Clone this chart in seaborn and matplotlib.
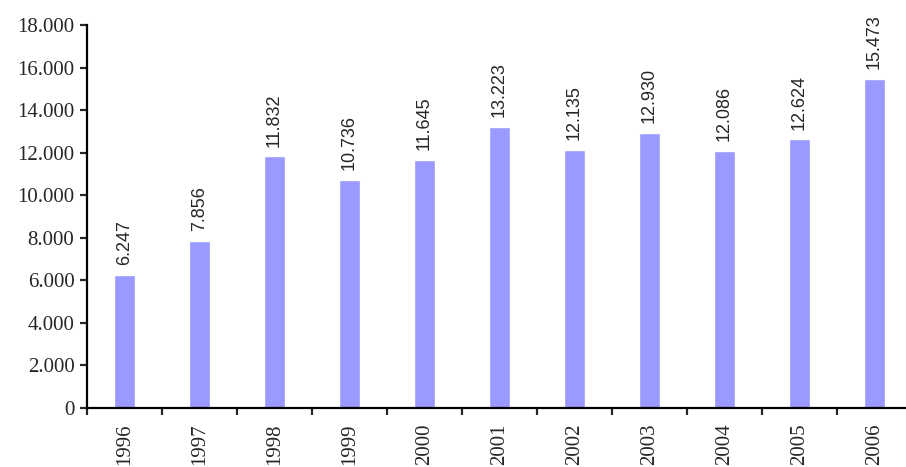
import pandas as pd
import seaborn as sns
import matplotlib.pyplot as plt
from matplotlib.ticker import FuncFormatter, FixedLocator

# data
years = ['1996', '1997', '1998', '1999', '2000', '2001', '2002', '2003', '2004', '2005', '2006']
values = [6247, 7856, 11832, 10736, 11645, 13223, 12135, 12930, 12086, 12624, 15473]
df = pd.DataFrame({'Year': years, 'Value': values})

sns.set_style('white')
plt.rcParams['font.family'] = ['Liberation Serif', 'DejaVu Serif']

fig = plt.figure(figsize=(9.06, 4.67), dpi=100)
ax = fig.add_axes([87 / 906, 59 / 467, 825 / 906, 383 / 467])

sns.barplot(data=df, x='Year', y='Value', color='#9999FF', width=0.29,
            saturation=1, ax=ax)

def dots(v, pos):
    return f"{v:,.0f}".replace(",", ".")

# value labels above bars
for i, v in enumerate(values):
    ax.annotate(dots(v, None), (i, v), xytext=(0, 7), textcoords='offset points',
                rotation=90, ha='center', va='bottom', fontsize=13,
                family='Liberation Sans')

ax.set_ylim(0, 18000)
ax.set_xlim(-0.5, 10.5)
ax.set_yticks(range(0, 18001, 2000))
ax.yaxis.set_major_formatter(FuncFormatter(dots))
ax.set_xlabel('')
ax.set_ylabel('')

for s in ['top', 'right']:
    ax.spines[s].set_visible(False)
for s in ['left', 'bottom']:
    ax.spines[s].set_linewidth(1.6)
    ax.spines[s].set_color('black')

ax.xaxis.set_minor_locator(FixedLocator([i - 0.5 for i in range(12)]))
ax.tick_params(axis='x', which='major', length=0, pad=11, labelsize=15, labelrotation=90)
ax.tick_params(axis='x', which='minor', length=5, width=1.6, direction='out', bottom=True)
ax.tick_params(axis='y', length=5, width=1.6, direction='out', left=True, labelsize=15, pad=4)

fig.savefig('out.png', dpi=100)
